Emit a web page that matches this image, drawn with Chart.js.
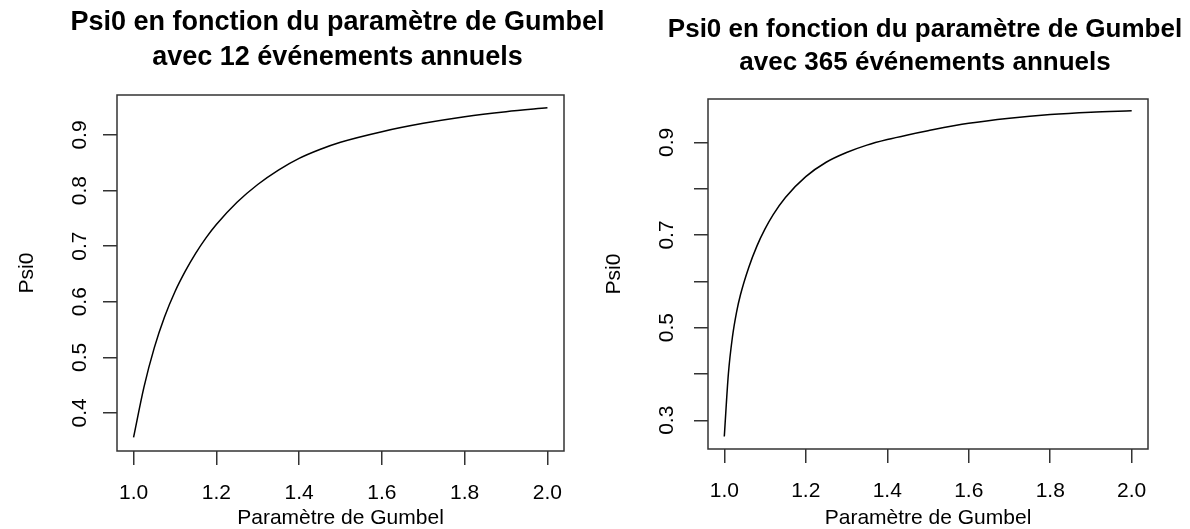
<!DOCTYPE html>
<html><head><meta charset="utf-8">
<script src="https://cdn.jsdelivr.net/npm/chart.js@4"></script>
<style>
html,body{margin:0;padding:0;background:#fff;}
#wrap{position:relative;width:1190px;height:529px;overflow:hidden;background:#fff}
canvas{position:absolute;top:0}
#c1{left:0}
#c2{left:595px}
</style></head><body>
<div id="wrap"><canvas id="c1" width="620" height="529"></canvas><canvas id="c2" width="595" height="529"></canvas></div>
<script>
// ---- data ----
const gumbelLeft = [1.00, 1.025, 1.05, 1.075, 1.10, 1.125, 1.15, 1.175, 1.20, 1.25, 1.30, 1.35, 1.40, 1.45, 1.50, 1.60, 1.70, 1.80, 1.90, 2.00];
const psiLeft    = [0.356, 0.446, 0.517, 0.573, 0.618, 0.655, 0.687, 0.715, 0.739, 0.779, 0.811, 0.837, 0.858, 0.874, 0.887, 0.906, 0.921, 0.933, 0.942, 0.949];

const gumbelRight = [1.00, 1.01, 1.02, 1.03, 1.04, 1.06, 1.08, 1.10, 1.12, 1.15, 1.20, 1.25, 1.30, 1.35, 1.40, 1.45, 1.50, 1.60, 1.70, 1.80, 1.90, 2.00];
const psiRight    = [0.265, 0.400, 0.480, 0.533, 0.572, 0.630, 0.676, 0.713, 0.744, 0.781, 0.826, 0.857, 0.878, 0.894, 0.906, 0.916, 0.925, 0.941, 0.952, 0.960, 0.965, 0.968];

const xTicks = [1.0, 1.2, 1.4, 1.6, 1.8, 2.0];
const yTicksLeft = [0.4, 0.5, 0.6, 0.7, 0.8, 0.9];
const yTicksRight = [0.3, 0.4, 0.5, 0.6, 0.7, 0.8, 0.9];
const yLabelsRight = [0.3, 0.5, 0.7, 0.9];

const titleLeft = ['Psi0 en fonction du paramètre de Gumbel', 'avec 12 événements annuels'];
const titleRight = ['Psi0 en fonction du paramètre de Gumbel', 'avec 365 événements annuels'];
const xTitle = 'Paramètre de Gumbel';
const yTitle = 'Psi0';

Chart.defaults.font.family = "'Liberation Sans', Arial, sans-serif";
Chart.defaults.color = '#000';

const boxPlugin = {
  id: 'rbox',
  afterLayout(chart) {
    // let the title spread wider than the plot region (as in R), centred over the plot
    const t = chart.titleBlock;
    if (!t) return;
    const c = (chart.chartArea.left + chart.chartArea.right) / 2 - 3;
    t.left = c - 300; t.right = c + 300; t.width = 600;
  },
  afterDraw(chart) {
    const {ctx, chartArea: a} = chart;
    ctx.save();
    ctx.strokeStyle = '#333';
    ctx.lineWidth = 1.5;
    ctx.strokeRect(a.left, a.top, a.right - a.left, a.bottom - a.top);
    ctx.restore();
  }
};

function makeChart(id, xs, ys, cfg) {
  const pts = xs.map((x, i) => ({x: x, y: ys[i]}));
  return new Chart(document.getElementById(id), {
    type: 'line',
    data: {datasets: [{data: pts, borderColor: '#000', borderWidth: 1.5, pointRadius: 0,
      cubicInterpolationMode: 'monotone', fill: false}]},
    plugins: [boxPlugin],
    options: {
      responsive: false, animation: false, devicePixelRatio: 1,
      layout: {padding: {top: 0, left: 0, bottom: 0, right: cfg.padRight}},
      plugins: {
        legend: {display: false}, tooltip: {enabled: false},
        title: {display: true, text: cfg.title, fullSize: false, color: '#000',
          font: {size: cfg.titleSize, weight: 'bold', lineHeight: cfg.titleLH / cfg.titleSize},
          padding: {top: cfg.titleTop, bottom: cfg.titleBottom}}
      },
      scales: {
        x: {
          type: 'linear', min: 0.96, max: 2.04,
          afterBuildTicks: s => { s.ticks = xTicks.map(v => ({value: v})); },
          afterFit: s => { s.height = cfg.xHeight; },
          grid: {drawOnChartArea: false, drawTicks: true, tickLength: 14, color: '#333', lineWidth: 1.5},
          border: {display: false},
          ticks: {autoSkip: false, maxRotation: 0, padding: 16, font: {size: 21}, color: '#000',
            callback: v => Number(v).toFixed(1)},
          title: {display: true, text: xTitle, font: {size: 21, lineHeight: 1.05}, padding: {top: 0, bottom: 0}, color: '#000'}
        },
        y: {
          type: 'linear', min: cfg.yMin, max: cfg.yMax,
          afterBuildTicks: s => { s.ticks = cfg.yTicks.map(v => ({value: v})); },
          afterFit: s => { s.width = cfg.yWidth; },
          grid: {drawOnChartArea: false, drawTicks: true, tickLength: 14, color: '#333', lineWidth: 1.5},
          border: {display: false},
          ticks: {autoSkip: false, minRotation: 90, maxRotation: 90, crossAlign: 'center',
            padding: cfg.yTickPad, font: {size: 21}, color: '#000',
            callback: v => cfg.yLabels.some(l => Math.abs(l - v) < 1e-9) ? Number(v).toFixed(1) : ''},
          title: {display: true, text: yTitle, font: {size: 21, lineHeight: 1.2}, padding: {top: cfg.yTitlePad, bottom: 0}, color: '#000'}
        }
      }
    }
  });
}

makeChart('c1', gumbelLeft, psiLeft, {
  title: titleLeft, titleSize: 27, titleLH: 35, titleTop: 5.5, titleBottom: 19.5,
  padRight: 56, xHeight: 78, yWidth: 117, yMin: 0.3315, yMax: 0.972,
  yTicks: yTicksLeft, yLabels: yTicksLeft, yTickPad: 8.4, yTitlePad: 15
});
makeChart('c2', gumbelRight, psiRight, {
  title: titleRight, titleSize: 26, titleLH: 33, titleTop: 13.5, titleBottom: 19.5,
  padRight: 42, xHeight: 80, yWidth: 113, yMin: 0.238, yMax: 0.9935,
  yTicks: yTicksRight, yLabels: yLabelsRight, yTickPad: 12.4, yTitlePad: 7
});
</script>
</body></html>
